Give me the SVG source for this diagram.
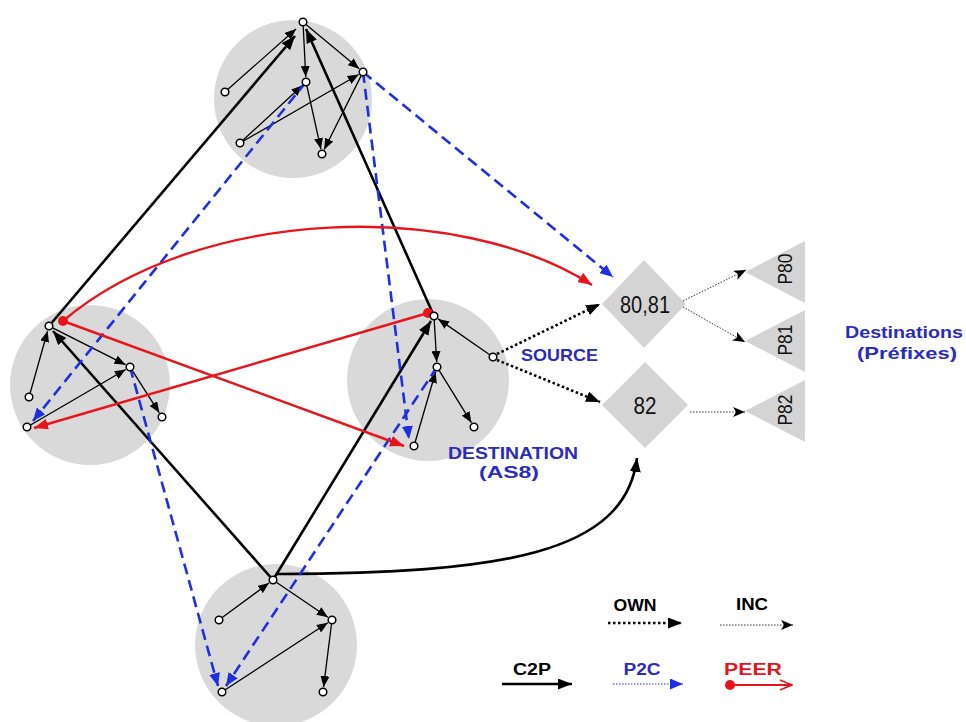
<svg xmlns="http://www.w3.org/2000/svg" width="966" height="722" viewBox="0 0 966 722">
<defs>
<style>
.as{fill:#d9d9d9}
.sh{fill:#d4d4d4}
.n{fill:#fff;stroke:#000;stroke-width:1.5}
.t{stroke:#000;stroke-width:1.3;fill:none;marker-end:url(#aThin)}
.k{stroke:#000;stroke-width:2.6;fill:none;marker-end:url(#aThick)}
.b{stroke:#1f2fe0;stroke-width:2.6;stroke-dasharray:11 6;fill:none;marker-end:url(#aBlue)}
.r{stroke:#e8141c;stroke-width:2.4;fill:none;marker-end:url(#aRed)}
.o{stroke:#000;stroke-width:2.6;stroke-dasharray:2.5 2.5;fill:none;marker-end:url(#aThick)}
.i{stroke:#333;stroke-width:1;stroke-dasharray:1.5 1.5;fill:none;marker-end:url(#aInc)}
text{font-family:"Liberation Sans",Arial,sans-serif}
.lbl{font-size:23px;fill:#111;text-anchor:middle}
.pre{font-size:20px;fill:#111;text-anchor:middle}
.blu{font-size:17px;font-weight:bold;fill:#2b2bbd}
.leg{font-size:16px;font-weight:bold;text-anchor:middle}
</style>
<marker id="aThin" markerUnits="userSpaceOnUse" markerWidth="11" markerHeight="9" refX="11" refY="4.5" orient="auto"><path d="M0,0 L11,4.5 L0,9 z" fill="#000"/></marker>
<marker id="aThick" markerUnits="userSpaceOnUse" markerWidth="14" markerHeight="11" refX="14" refY="5.5" orient="auto"><path d="M0,0 L14,5.5 L0,11 z" fill="#000"/></marker>
<marker id="aBlue" markerUnits="userSpaceOnUse" markerWidth="13" markerHeight="11" refX="13" refY="5.5" orient="auto"><path d="M0,0 L13,5.5 L0,11 z" fill="#1f2fe0"/></marker>
<marker id="aRed" markerUnits="userSpaceOnUse" markerWidth="14" markerHeight="11" refX="14" refY="5.5" orient="auto"><path d="M0,0 L14,5.5 L0,11 z" fill="#e8141c"/></marker>
<marker id="aInc" markerUnits="userSpaceOnUse" markerWidth="12" markerHeight="10" refX="12" refY="5" orient="auto"><path d="M0,0 L12,5 L0,10 L3,5 z" fill="#000"/></marker>
<marker id="aPeer" markerUnits="userSpaceOnUse" markerWidth="14" markerHeight="12" refX="13" refY="6" orient="auto"><path d="M1,1 L13,6 L1,11" fill="none" stroke="#e8141c" stroke-width="1.6"/></marker>
</defs>
<rect width="966" height="722" fill="#fff"/>

<g id="as-top"><circle class="as" cx="293" cy="99" r="79"/></g>
<g id="as-left"><circle class="as" cx="90" cy="385" r="80"/></g>
<g id="as-dest"><circle class="as" cx="428" cy="380" r="81"/></g>
<g id="as-bottom"><circle class="as" cx="276" cy="645" r="81"/></g>
<g id="d-8081"><polygon class="sh" points="644,260 686,304 644,348 602,304"/><text class="lbl" x="645" y="313" textLength="50" lengthAdjust="spacingAndGlyphs">80,81</text></g>
<g id="d-82"><polygon class="sh" points="645,362 688,405 645,448 602,405"/><text class="lbl" x="645" y="414" textLength="23" lengthAdjust="spacingAndGlyphs">82</text></g>
<g id="p80"><polygon class="sh" points="745,272 805,241 805,303"/><text class="pre" transform="translate(792,269) rotate(-90)" textLength="31" lengthAdjust="spacingAndGlyphs">P80</text></g>
<g id="p81"><polygon class="sh" points="745,341 805,310 805,372"/><text class="pre" transform="translate(792,340) rotate(-90)" textLength="31" lengthAdjust="spacingAndGlyphs">P81</text></g>
<g id="p82"><polygon class="sh" points="745,411 805,380 805,442"/><text class="pre" transform="translate(792,410) rotate(-90)" textLength="31" lengthAdjust="spacingAndGlyphs">P82</text></g>

<g id="connectors">
<path class="t" d="M228,89.3 L296,29"/>
<path class="t" d="M242.9,140.3 L302.3,85.4"/>
<path class="t" d="M243.5,141 L358.7,74.5"/>
<path class="t" d="M303.2,26 L305.75,77"/>
<path class="t" d="M306,24.6 L359.2,68.8"/>
<path class="t" d="M306.9,86 L320.9,149.1"/>
<path class="t" d="M361.2,75.6 L324.2,149.5"/>
<path class="t" d="M30.1,393.2 L47.6,331"/>
<path class="t" d="M52.6,327.8 L125.5,364.7"/>
<path class="t" d="M30.5,425 L125.7,369.5"/>
<path class="t" d="M132.2,370.4 L159.3,412.8"/>
<path class="t" d="M489.7,354.7 L438.1,318.9"/>
<path class="t" d="M434.2,320 L436.7,362"/>
<path class="t" d="M439.1,370.4 L471.4,422.7"/>
<path class="t" d="M415.1,442.2 L435.6,372"/>
<path class="t" d="M222.2,617.6 L269,583"/>
<path class="t" d="M276.3,582.2 L327.9,617.2"/>
<path class="t" d="M225.3,689.8 L327.8,622.7"/>
<path class="t" d="M331.5,624 L323.6,687"/>
<path class="k" d="M49,326 L295,36"/>
<path class="k" d="M434,316 L306,29"/>
<path class="k" d="M273,580 L53,331"/>
<path class="k" d="M273,580 L431,321"/>
<path class="k" d="M277,574 C500,573 625,555 637,458"/>
<path class="b" d="M363,72 L613,277"/>
<path class="b" d="M363,72 L409,439"/>
<path class="b" d="M306,82 L33,421"/>
<path class="b" d="M130,367 L218,686"/>
<path class="b" d="M437,367 L226,686"/>
<path class="r" d="M63,321 C200,205 460,200 592,285"/>
<path class="r" d="M63,321 L404,446"/>
<path class="r" d="M428,313 L34,428"/>
<circle cx="63" cy="321" r="5" fill="#e8141c"/>
<circle cx="428" cy="313" r="5" fill="#e8141c"/>
<path class="o" d="M497,354 L600,304"/>
<path class="o" d="M497,360 L600,402"/>
<path class="i" d="M683,301 L746,270"/>
<path class="i" d="M683,307 L745,342"/>
<path class="i" d="M690,412 L745,412"/>
</g>

<g id="routers">
<circle class="n" cx="303" cy="22" r="3.8"/>
<circle class="n" cx="225" cy="92" r="3.8"/>
<circle class="n" cx="306" cy="82" r="3.8"/>
<circle class="n" cx="363" cy="72" r="3.8"/>
<circle class="n" cx="240" cy="143" r="3.8"/>
<circle class="n" cx="322" cy="154" r="3.8"/>
<circle class="n" cx="49" cy="326" r="3.8"/>
<circle class="n" cx="130" cy="367" r="3.8"/>
<circle class="n" cx="29" cy="397" r="3.8"/>
<circle class="n" cx="27" cy="427" r="3.8"/>
<circle class="n" cx="162" cy="417" r="3.8"/>
<circle class="n" cx="434" cy="316" r="3.8"/>
<circle class="n" cx="493" cy="357" r="3.8"/>
<circle class="n" cx="437" cy="367" r="3.8"/>
<circle class="n" cx="474" cy="427" r="3.8"/>
<circle class="n" cx="414" cy="446" r="3.8"/>
<circle class="n" cx="273" cy="580" r="3.8"/>
<circle class="n" cx="219" cy="620" r="3.8"/>
<circle class="n" cx="332" cy="620" r="3.8"/>
<circle class="n" cx="222" cy="692" r="3.8"/>
<circle class="n" cx="323" cy="692" r="3.8"/>
</g>

<g id="labels">
<text class="blu" x="521" y="361" textLength="77" lengthAdjust="spacingAndGlyphs">SOURCE</text>
<text class="blu" x="448" y="459" textLength="130" lengthAdjust="spacingAndGlyphs">DESTINATION</text>
<text class="blu" x="479" y="478" textLength="60" lengthAdjust="spacingAndGlyphs">(AS8)</text>
<text class="blu" x="845" y="338" textLength="118" lengthAdjust="spacingAndGlyphs">Destinations</text>
<text class="blu" x="857" y="359" textLength="100" lengthAdjust="spacingAndGlyphs">(Préfixes)</text>
</g>

<g id="legend">
<text class="leg" x="635" y="611" textLength="43" lengthAdjust="spacingAndGlyphs">OWN</text>
<path class="o" d="M608,623 L682,623"/>
<text class="leg" x="752" y="610" textLength="32" lengthAdjust="spacingAndGlyphs">INC</text>
<path class="i" d="M720,625 L793,625"/>
<text class="leg" x="532" y="675" textLength="38" lengthAdjust="spacingAndGlyphs">C2P</text>
<path class="k" d="M502,684 L572,684"/>
<text class="leg" x="642" y="675" fill="#2b2bbd" textLength="37" lengthAdjust="spacingAndGlyphs">P2C</text>
<path d="M613,684 L683,684" stroke="#1f2fe0" stroke-width="1" stroke-dasharray="1.5 1.5" fill="none" marker-end="url(#aBlue)"/>
<text class="leg" x="753" y="675" fill="#e8141c" textLength="58" lengthAdjust="spacingAndGlyphs">PEER</text>
<circle cx="730" cy="685" r="5" fill="#e8141c"/>
<path d="M730,685 L792,685" stroke="#e8141c" stroke-width="1.8" fill="none" marker-end="url(#aPeer)"/>
</g>
</svg>
